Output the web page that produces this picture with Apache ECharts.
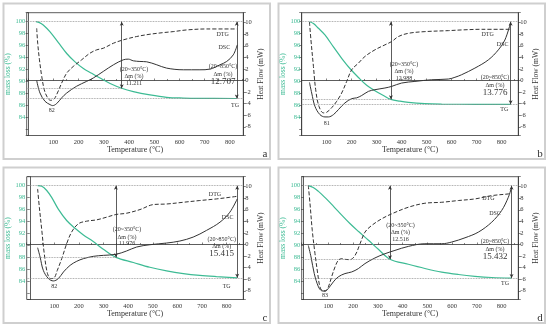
<!DOCTYPE html>
<html><head><meta charset="utf-8">
<script src="https://cdn.jsdelivr.net/npm/echarts@6/dist/echarts.min.js"></script>
<style>html,body{margin:0;padding:0;background:#fff}#c{width:550px;height:328px}</style>
</head><body><div id="c"></div>
<script>
// ---------- data ----------
const panelLetters = ['a', 'b', 'c', 'd'];
const xTickLabels = [100, 200, 300, 400, 500, 600, 700, 800];
const leftTickLabels = [84, 86, 88, 90, 92, 94, 96, 98, 100];
const rightTickLabels = [-8, -6, -4, -2, 0, 2, 4, 6, 8, 10];

const tgA = [[31,100],[45,99.85],[60,99.45],[87,98.3],[120,96.5],[153,94.7],[186,93.3],[219,92.2],[252,91.4],[285,90.6],[325,89.7],[371,88.9],[417,88.35],[483,87.8],[549,87.4],[615,87.27],[681,87.22],[827,87.2]];
const dscA = [[34,0.0],[47,-2.16],[67,-3.6],[87,-4.17],[97,-4.34],[113,-4.0],[133,-3.0],[153,-2.16],[192,-1.0],[232,-0.15],[258,0.42],[298,1.57],[338,2.71],[377,3.57],[397,3.69],[417,3.4],[443,3.29],[470,3.23],[510,2.71],[549,2.14],[615,1.85],[681,1.85],[721,1.97],[760,2.71],[787,3.29],[813,4.43],[829,6.16]];
const dtgA = [[34,9.02],[38,6.44],[45,3.57],[54,0.7],[64,-1.59],[76,-2.9],[89,-3.43],[103,-3.2],[116,-2.16],[133,-0.44],[153,1.28],[179,2.43],[212,3.57],[245,4.72],[272,5.3],[298,5.58],[338,6.44],[377,7.02],[430,7.6],[483,8.0],[536,8.28],[575,8.45],[628,8.74],[708,8.91],[827,8.91]];

const tgB = [[31,100],[47,99.7],[67,98.9],[93,97.8],[127,95.8],[160,93.9],[193,92.2],[227,90.7],[260,89.4],[293,88.5],[327,87.7],[357,87.06],[393,86.75],[427,86.55],[493,86.35],[560,86.27],[693,86.23],[836,86.22]];
const dscB = [[31,-0.33],[40,-2.16],[53,-4.46],[73,-5.9],[93,-6.3],[107,-6.3],[127,-5.9],[147,-5.03],[173,-3.88],[200,-3.14],[220,-3.0],[240,-2.6],[267,-1.88],[293,-1.59],[333,-1.3],[360,-1.02],[400,-0.44],[453,-0.16],[520,0.13],[587,0.25],[613,0.55],[640,1.0],[693,2.14],[747,3.57],[787,5.3],[813,7.0],[836,10.0]];
const dtgB = [[31,10.1],[37,7.0],[47,2.4],[56,-1.6],[69,-4.46],[87,-5.6],[100,-5.5],[120,-4.7],[140,-3.6],[160,-2.16],[180,-0.16],[200,1.85],[227,3.0],[253,4.15],[293,5.3],[333,6.16],[360,6.73],[387,7.6],[427,8.16],[493,8.45],[587,8.62],[640,8.74],[720,8.85],[836,8.85]];

const tgC = [[32,100],[49,99.9],[69,99.2],[89,98.05],[116,96.1],[150,94.2],[184,92.9],[218,91.8],[258,90.7],[299,89.4],[350,88.06],[421,87.2],[488,86.4],[556,85.8],[624,85.35],[691,85.05],[759,84.85],[843,84.65]];
const dscC = [[32,-0.56],[42,-2.16],[55,-4.46],[76,-5.9],[96,-6.3],[116,-5.9],[137,-4.75],[164,-3.6],[191,-2.9],[218,-2.45],[258,-2.05],[299,-1.88],[350,-1.7],[393,-1.13],[434,-0.44],[488,-0.04],[556,0.25],[610,0.6],[664,1.28],[718,2.43],[773,3.86],[813,5.58],[843,7.88]];
const dtgC = [[32,9.6],[39,6.44],[49,2.43],[59,-1.59],[72,-5.03],[85,-5.9],[99,-5.78],[112,-4.46],[130,-2.45],[150,0.13],[170,2.14],[197,3.57],[231,4.03],[272,4.26],[312,4.72],[350,5.18],[394,5.41],[448,6.04],[502,6.9],[556,7.0],[624,7.3],[691,7.6],[759,7.88],[813,8.16],[843,8.33]];

const tgD = [[19,100],[39,99.7],[60,99.05],[87,98.0],[120,96.6],[154,95.1],[187,93.7],[221,92.4],[262,90.9],[302,89.4],[349,87.75],[423,86.9],[490,86.2],[558,85.6],[625,85.2],[692,84.9],[760,84.7],[840,84.6]];
const dscD = [[19,-0.16],[30,-2.16],[43,-5.03],[60,-7.33],[73,-8.0],[87,-8.07],[100,-7.6],[120,-6.47],[140,-5.6],[167,-5.03],[194,-4.75],[221,-4.17],[248,-3.3],[288,-2.33],[329,-1.59],[369,-1.02],[423,-0.33],[490,0.13],[558,0.13],[598,0.42],[652,1.16],[706,2.14],[760,3.86],[800,5.87],[827,8.16],[840,9.89]];
const dtgD = [[19,10.2],[26,7.0],[35,2.43],[46,-1.59],[57,-5.03],[66,-7.33],[77,-8.0],[87,-8.0],[100,-7.33],[113,-5.6],[127,-3.88],[140,-2.74],[154,-2.45],[167,-2.57],[187,-2.62],[208,-1.88],[228,0.13],[248,2.14],[275,3.29],[315,4.43],[356,5.3],[423,6.44],[490,7.13],[558,7.3],[625,7.6],[692,7.88],[760,8.45],[827,8.74],[840,8.85]];

const rangeLabel350 = '(20~350°C)';
const rangeLabel850 = '(20~850°C)';
const dmLabel = 'Δm (%)';
const dm350 = ['11.211', '12.988', '11.976', '12.516'];
const dm850 = ['12.707', '13.776', '15.415', '15.432'];
const peakTemps = ['82', '81', '82', '83'];
const arrowTemps = [[371, 827], [357, 836], [350, 843], [349, 840]];
const tgAtArrows = [[88.9, 87.2], [87.06, 86.22], [88.06, 84.65], [87.75, 84.6]];

const tgSeries = [tgA, tgB, tgC, tgD];
const dscSeries = [dscA, dscB, dscC, dscD];
const dtgSeries = [dtgA, dtgB, dtgC, dtgD];

// ---------- layout / style ----------
const FONT = 'Liberation Serif';
const GREEN = '#3dbb94';
const DARK = '#333333';
const offsets = [[0, 0], [275, 0], [0, 164], [275, 164]];
const xRanges = [[-5.6, 852.8], [0, 866.7], [-12.4, 867.7], [-7.7, 867.3]];
const GL = 26.7, GT = 12.7, GW = 216.6, GH = 122.8;
const leftRange = [81.03, 101.5];
const rightRange = [-9.51, 11.72];
// annotation positions within each panel (px)
const annot = [
  {dtg:[222.7,34], dsc:[224.3,47.7], tg:[235,105], pk:[51.7,110], b1:[134,69.3], b2:[223,66.7]},
  {dtg:[212.7,34.3], dsc:[227.7,44.3], tg:[229.3,109.3], pk:[51.7,123.3], b1:[129,64.3], b2:[220,77.7]},
  {dtg:[215,30], dsc:[227.7,53.3], tg:[226.7,122.7], pk:[54.3,122.7], b1:[127,65.7], b2:[221.7,75]},
  {dtg:[213.3,34.3], dsc:[220,49.3], tg:[230,119.3], pk:[50,131], b1:[125.5,61], b2:[220,77.7]}
];

const grids = [], xAxes = [], yAxes = [], series = [], graphics = [];

function txt(x, y, s, size, color, extra) {
  return Object.assign({
    type: 'text', x: x, y: y, silent: true,
    style: { text: s, fontSize: size, fontFamily: FONT, fill: color || DARK,
      align: 'center', verticalAlign: 'middle', textAlign: 'center', textVerticalAlign: 'middle' }
  }, extra || {});
}

for (let i = 0; i < 4; i++) {
  const [ox, oy] = offsets[i];
  graphics.push({ type: 'rect', silent: true, shape: { x: ox + 3.5, y: oy + 3.5, width: 266.5, height: 155.5 },
    style: { fill: 'none', stroke: '#cfcfcf', lineWidth: 2 } });
  grids.push({ left: ox + GL, top: oy + GT, width: GW, height: GH, show: true,
    borderColor: DARK, borderWidth: 0.8, containLabel: false });
  xAxes.push({
    type: 'value', gridIndex: i, min: xRanges[i][0], max: xRanges[i][1],
    minInterval: 100, maxInterval: 100,
    name: 'Temperature (°C)', nameLocation: 'middle', nameGap: 10,
    nameTextStyle: { fontFamily: FONT, fontSize: 8, color: DARK },
    axisLine: { show: true, lineStyle: { color: DARK, width: 0.8 } },
    axisTick: { show: true, inside: true, length: 2, lineStyle: { color: DARK, width: 0.6 } },
    minorTick: { show: true, splitNumber: 2, length: 1.5, lineStyle: { color: DARK, width: 0.6 } },
    axisLabel: { fontFamily: FONT, fontSize: 6.5, color: DARK, margin: 3,
      formatter: v => xTickLabels.indexOf(Math.round(v)) >= 0 && Math.abs(v - Math.round(v)) < 1e-6 ? String(Math.round(v)) : '' },
    splitLine: { show: false }
  });
  yAxes.push({
    type: 'value', gridIndex: i, position: 'left', min: leftRange[0], max: leftRange[1],
    minInterval: 2, maxInterval: 2,
    name: 'mass loss (%)', nameLocation: 'middle', nameGap: 15, nameRotate: 90,
    nameTextStyle: { fontFamily: FONT, fontSize: 7.5, color: GREEN },
    axisLine: { show: true, lineStyle: { color: DARK, width: 0.8 } },
    axisTick: { show: true, inside: false, length: 2.5, lineStyle: { color: DARK, width: 0.6 } },
    axisLabel: { fontFamily: FONT, fontSize: 6.5, color: GREEN, margin: 1.5,
      formatter: v => leftTickLabels.indexOf(Math.round(v)) >= 0 && Math.abs(v - Math.round(v)) < 1e-6 ? String(Math.round(v)) : '' },
    splitLine: { show: false }
  });
  yAxes.push({
    type: 'value', gridIndex: i, position: 'right', min: rightRange[0], max: rightRange[1],
    minInterval: 2, maxInterval: 2,
    name: 'Heat Flow (mW)', nameLocation: 'middle', nameGap: 14, nameRotate: 90,
    nameTextStyle: { fontFamily: FONT, fontSize: 7.5, color: DARK },
    axisLine: { show: true, lineStyle: { color: DARK, width: 0.8 } },
    axisTick: { show: true, inside: false, length: 2.5, lineStyle: { color: DARK, width: 0.6 } },
    axisLabel: { fontFamily: FONT, fontSize: 6.5, color: DARK, margin: 2,
      formatter: v => rightTickLabels.indexOf(Math.round(v)) >= 0 && Math.abs(v - Math.round(v)) < 1e-6 ? String(Math.round(v)) : '' },
    splitLine: { show: false }
  });

  const xmin = xRanges[i][0], xmax = xRanges[i][1];
  const [t1, t2] = arrowTemps[i];
  const [g1, g2] = tgAtArrows[i];
  const dotted = { type: 'dotted', color: '#8a8a8a', width: 0.8 };
  const solid = { type: 'solid', color: DARK, width: 0.8 };
  series.push({
    type: 'line', name: 'TG', xAxisIndex: i, yAxisIndex: 2 * i, data: tgSeries[i],
    smooth: 0.35, showSymbol: false, symbol: 'none', z: 3,
    lineStyle: { color: GREEN, width: 1.2 }, silent: true, animation: false,
    markLine: {
      silent: true, animation: false, symbol: ['none', 'none'], label: { show: false },
      emphasis: { disabled: true },
      data: [
        [{ coord: [xmin, 100], lineStyle: dotted }, { coord: [xmax, 100] }],
        [{ coord: [xmin, g1], lineStyle: dotted }, { coord: [t1, g1] }],
        [{ coord: [xmin, g2], lineStyle: dotted }, { coord: [xmax, g2] }],
        [{ coord: [t1, 100], lineStyle: solid, symbol: 'arrow', symbolSize: [3, 4] }, { coord: [t1, g1], symbol: 'arrow', symbolSize: [3, 4] }],
        [{ coord: [t2, 100], lineStyle: solid, symbol: 'arrow', symbolSize: [3, 4] }, { coord: [t2, g2], symbol: 'arrow', symbolSize: [3, 4] }]
      ]
    }
  });
  series.push({
    type: 'line', name: 'DSC', xAxisIndex: i, yAxisIndex: 2 * i + 1, data: dscSeries[i],
    smooth: 0.35, showSymbol: false, symbol: 'none', z: 4,
    lineStyle: { color: DARK, width: 1 }, silent: true, animation: false
  });
  series.push({
    type: 'line', name: 'DTG', xAxisIndex: i, yAxisIndex: 2 * i + 1, data: dtgSeries[i],
    smooth: 0.35, showSymbol: false, symbol: 'none', z: 4,
    lineStyle: { color: DARK, width: 1, type: [4, 2] }, silent: true, animation: false
  });

  const a = annot[i];
  graphics.push(txt(ox + a.dtg[0], oy + a.dtg[1], 'DTG', 6));
  graphics.push(txt(ox + a.dsc[0], oy + a.dsc[1], 'DSC', 6));
  graphics.push(txt(ox + a.tg[0], oy + a.tg[1], 'TG', 6));
  graphics.push(txt(ox + a.pk[0], oy + a.pk[1], peakTemps[i], 6));
  graphics.push(txt(ox + a.b1[0], oy + a.b1[1], rangeLabel350, 6));
  graphics.push(txt(ox + a.b1[0], oy + a.b1[1] + 7.3, dmLabel, 6));
  graphics.push(txt(ox + a.b1[0], oy + a.b1[1] + 14, dm350[i], 6));
  graphics.push(txt(ox + a.b2[0], oy + a.b2[1], rangeLabel850, 6));
  graphics.push(txt(ox + a.b2[0], oy + a.b2[1] + 7.3, dmLabel, 6));
  graphics.push(txt(ox + a.b2[0], oy + a.b2[1] + 14.5, dm850[i], 9));
  graphics.push(txt(ox + 265, oy + 154, panelLetters[i], 11));
}

const chart = echarts.init(document.getElementById('c'), null, { renderer: 'canvas' });
chart.setOption({
  animation: false,
  backgroundColor: '#ffffff',
  grid: grids, xAxis: xAxes, yAxis: yAxes, series: series, graphic: graphics
});
</script></body></html>
